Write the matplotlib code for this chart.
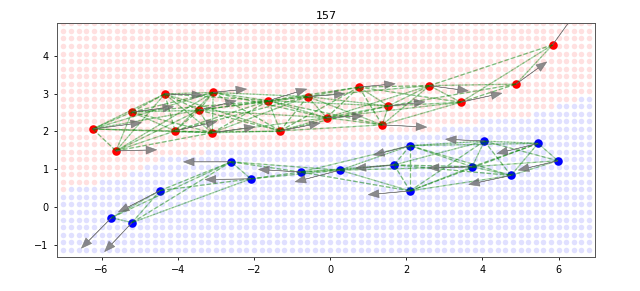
import numpy as np
import matplotlib
matplotlib.use("Agg")
import matplotlib.pyplot as plt

title = "157"

# red class points
red_x = [-6.23, -5.62, -5.20, -4.34, -4.07, -3.44, -3.07, -3.09, -1.62, -1.31,
         -0.59, -0.09, 0.76, 1.53, 1.37, 2.61, 3.43, 4.88, 5.84]
red_y = [2.06, 1.48, 2.51, 2.99, 2.01, 2.56, 3.03, 1.96, 2.81, 2.01,
         2.92, 2.36, 3.17, 2.67, 2.17, 3.21, 2.77, 3.25, 4.29]
red_dx = [1.28, 1.07, 1.09, 1.00, 1.10, 0.98, 0.88, 1.12, 1.01, 1.05,
          0.98, 0.96, 0.95, 0.96, 1.17, 1.02, 1.08, 0.81, 0.75]
red_dy = [0.17, 0.03, 0.14, -0.03, 0.25, 0.25, 0.09, 0.16, 0.31, 0.21,
          0.07, 0.05, 0.09, 0.11, -0.06, -0.14, 0.24, 0.59, 1.05]

# blue class points
blue_x = [-5.74, -5.20, -4.46, -2.60, -2.08, -0.77, 0.26, 1.68, 2.10, 2.10,
          4.05, 3.73, 5.46, 5.98, 4.75]
blue_y = [-0.29, -0.42, 0.43, 1.19, 0.74, 0.92, 0.97, 1.11, 1.62, 0.42,
          1.74, 1.06, 1.68, 1.22, 0.83]
blue_dx = [-0.79, -0.72, -1.10, -1.25, -1.20, -1.11, -1.18, -1.02, -0.96, -1.10,
           -1.02, -1.15, -1.08, -1.04, -1.11]
blue_dy = [-0.81, -0.77, -0.57, 0.00, -0.02, 0.07, -0.31, -0.09, -0.25, -0.10,
           0.05, -0.03, -0.27, -0.25, -0.24]

# decision boundary knots (red above, blue below)
boundary_x = [-7.2, -6.3, -5.5, -5.1, -4.65, -3.9, -2.5, 0.0, 0.8, 2.5, 4.2, 5.5, 7.0]
boundary_y = [0.40, 0.60, 0.80, 1.00, 1.20, 1.40, 1.55, 1.60, 1.80, 2.00, 2.30, 2.50, 3.00]

EDGE_RADIUS = 3.6

fig = plt.figure(figsize=(6.4, 2.91), dpi=100)
ax = fig.add_axes([0.089, 0.117, 0.841, 0.804])

# background grid
gx = np.linspace(-7.0, 6.8, 70)
gy = np.linspace(-1.14, 4.86, 31)
GX, GY = np.meshgrid(gx, gy)
bnd = np.interp(GX, boundary_x, boundary_y)
is_red = GY > bnd
ax.scatter(GX[is_red], GY[is_red], s=16, c="red", alpha=0.12, linewidths=0, zorder=1)
ax.scatter(GX[~is_red], GY[~is_red], s=16, c="blue", alpha=0.12, linewidths=0, zorder=1)

# radius-graph edges within class (drawn both directions)
def draw_edges(xs, ys):
    P = np.column_stack([xs, ys])
    n = len(P)
    D = np.sqrt(((P[:, None, :] - P[None, :, :]) ** 2).sum(-1))
    for i in range(n):
        for j in range(n):
            if i != j and D[i, j] < EDGE_RADIUS:
                ax.plot([P[i, 0], P[j, 0]], [P[i, 1], P[j, 1]], ls="--", color="green",
                        alpha=0.3, lw=0.9, zorder=3)

draw_edges(red_x, red_y)
draw_edges(blue_x, blue_y)

ax.scatter(red_x, red_y, s=38, c="red", zorder=2, linewidths=0)
ax.scatter(blue_x, blue_y, s=38, c="blue", zorder=2, linewidths=0)

for xs, ys, dxs, dys in [(red_x, red_y, red_dx, red_dy), (blue_x, blue_y, blue_dx, blue_dy)]:
    for x, y, dx, dy in zip(xs, ys, dxs, dys):
        ax.arrow(x, y, dx, dy, width=0.006, head_width=0.21, head_length=0.28,
                 length_includes_head=True, fc="#666666", ec="#666666", lw=0.4,
                 alpha=0.75, zorder=4)

ax.set_xlim(-7.17, 6.96)
ax.set_ylim(-1.33, 4.87)
ax.set_xticks([-6, -4, -2, 0, 2, 4, 6])
ax.set_yticks([-1, 0, 1, 2, 3, 4])
ax.tick_params(labelsize=7, length=2.5, width=0.6)
for s in ax.spines.values():
    s.set_linewidth(0.7)
    s.set_color("#555555")
ax.set_title(title, fontsize=8, pad=3)

fig.savefig("out.png", dpi=100)
